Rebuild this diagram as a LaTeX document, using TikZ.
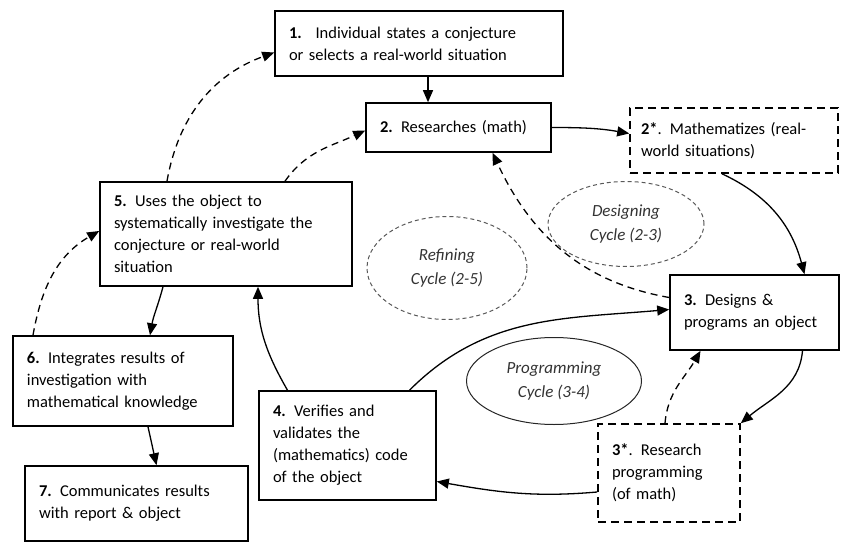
\documentclass[tikz,border=0pt]{standalone}
\usepackage{fontspec}
\setmainfont{Carlito}
\usepackage{tikz}
\usetikzlibrary{arrows.meta,shapes.geometric}

\begin{document}
\begin{tikzpicture}[
  x=1pt,y=-1pt,
  font=\fontsize{16.5}{22}\selectfont,
  stage/.style={draw,line width=1.6pt,align=left,inner xsep=14pt,inner ysep=4pt},
  extra/.style={stage,dash pattern=on 8pt off 5pt},
  cyclenote/.style={ellipse,draw=black!65,line width=1pt,dash pattern=on 4pt off 3pt,inner sep=0pt,
    align=center,text=black!80,font=\fontsize{17}{24}\selectfont\itshape},
  to/.style={-{Triangle[length=12pt,width=10pt]},line width=1.3pt},
  dashto/.style={to,dash pattern=on 7pt off 5pt}]

  \useasboundingbox (0,0) rectangle (841,543);

  % Position the stages at coordinates
  \node[stage,text width=260pt,minimum height=65pt] (n1) at (419,43.5) {\textbf{1.}~ Individual states a conjecture\\or selects a real-world situation};
  \node[stage,text width=157pt,minimum height=49pt] (n2) at (458.5,127.5) {\textbf{2.} Researches (math)};
  \node[extra,inner xsep=11pt,text width=186pt,minimum height=65pt] (n2s) at (734,140.5) {\textbf{2*}. Mathematizes (real-\\world situations)};
  \node[stage,text width=224pt,minimum height=104pt] (n5) at (226,234) {\textbf{5.} Uses the object to\\systematically investigate the\\conjecture or real-world\\situation};
  \node[stage,text width=141pt,minimum height=75pt] (n3) at (754.5,312.5) {\textbf{3.} Designs \&\\programs an object};
  \node[extra,text width=114pt,minimum height=98pt] (n3s) at (669,473) {\textbf{3*}. Research\\programming\\(of math)};
  \node[stage,text width=149pt,minimum height=109pt] (n4) at (347.5,445.5) {\textbf{4.} Verifies and\\validates the\\(mathematics) code\\of the object};
  \node[stage,text width=192pt,minimum height=90pt] (n6) at (123,381) {\textbf{6.} Integrates results of\\investigation with\\mathematical knowledge};
  \node[stage,text width=195pt,minimum height=75pt] (n7) at (136.5,503.5) {\textbf{7.} Communicates results\\with report \& object\\[8pt]};

  % The three cycles
  \node[cyclenote,minimum width=156pt,minimum height=85pt] (designing) at (626,224) {Designing\\Cycle (2-3)};
  \node[cyclenote,minimum width=160pt,minimum height=103pt] (refining) at (447,268) {Refining\\Cycle (2-5)};
  \node[cyclenote,solid,draw=black!85,minimum width=175pt,minimum height=87pt] (programming) at (554,381) {Programming\\Cycle (3-4)};

  % Draw the arrows between the stages
  \draw[to] ([xshift=9pt]n1.south) -- ([xshift=9pt]n1.south |- n2.north);
  \draw[to] (n2.east) to[out=0,in=170] ([yshift=7pt]n2s.west);
  \draw[to] ([xshift=-12pt]n2s.south) to[out=-25,in=105] ([xshift=50pt]n3.north);
  \draw[to] ([xshift=48pt]n3.south) to[out=-95,in=40] (n3s.north east);
  \draw[to] ([yshift=-19pt]n3s.west) to[out=185,in=-10] ([yshift=-36pt]n4.east);
  \draw[to] ([xshift=62pt]n4.north) to[out=45,in=185] ([yshift=3pt]n3.west);
  \draw[to] ([xshift=-60pt]n4.north) to[out=120,in=-90] ([xshift=32pt]n5.south);
  \draw[to] ([xshift=-63pt]n5.south) to[out=-105,in=80] ([xshift=27pt]n6.north);
  \draw[to] ([xshift=25pt]n6.south) -- ([xshift=20pt]n7.north);

  % Dashed arrows go back
  \draw[dashto] ([xshift=-90pt]n6.north) to[out=80,in=210] ([yshift=3pt]n5.west);
  \draw[dashto] ([xshift=-59pt]n5.north) to[out=80,in=200] ([yshift=-9pt]n1.west);
  \draw[dashto] ([xshift=59pt]n5.north) to[out=55,in=205] ([yshift=-3pt]n2.west);
  \draw[dashto] ([yshift=15pt]n3.west) to[out=170,in=-65] ([xshift=34pt]n2.south);
  \draw[dashto] ([xshift=-4pt]n3s.north) to[out=85,in=-120] ([xshift=-54pt]n3.south);
\end{tikzpicture}
\end{document}
